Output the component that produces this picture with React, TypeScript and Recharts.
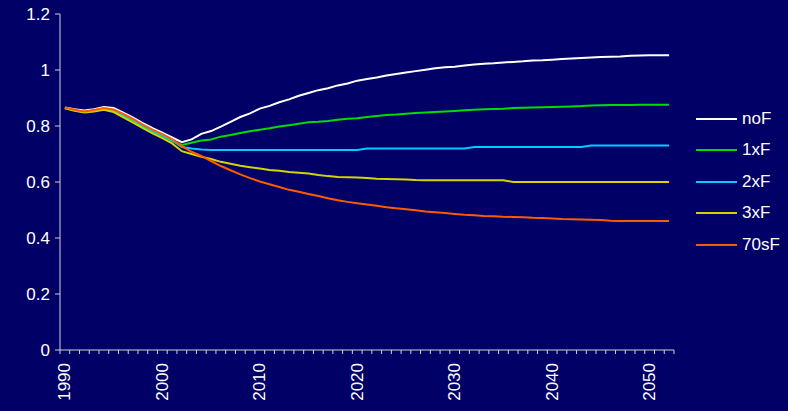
import { Legend, Line, LineChart, XAxis, YAxis } from "recharts";

const YEARS = [
  1990, 1991, 1992, 1993, 1994, 1995, 1996, 1997, 1998, 1999,
  2000, 2001, 2002, 2003, 2004, 2005, 2006, 2007, 2008, 2009,
  2010, 2011, 2012, 2013, 2014, 2015, 2016, 2017, 2018, 2019,
  2020, 2021, 2022, 2023, 2024, 2025, 2026, 2027, 2028, 2029,
  2030, 2031, 2032, 2033, 2034, 2035, 2036, 2037, 2038, 2039,
  2040, 2041, 2042, 2043, 2044, 2045, 2046, 2047, 2048, 2049,
  2050, 2051, 2052,
];

const NO_F = [
  0.866, 0.86, 0.855, 0.86, 0.868, 0.864, 0.848, 0.83, 0.81, 0.792,
  0.776, 0.759, 0.742, 0.752, 0.772, 0.782, 0.798, 0.815, 0.832, 0.845,
  0.862, 0.872, 0.885, 0.895, 0.908, 0.918, 0.928, 0.935, 0.945, 0.952,
  0.962, 0.968, 0.973, 0.98, 0.986, 0.991, 0.996, 1.001, 1.006, 1.01,
  1.012, 1.016, 1.02, 1.022, 1.024, 1.027, 1.029, 1.031, 1.034, 1.035,
  1.037, 1.039, 1.041, 1.043, 1.045, 1.046, 1.047, 1.048, 1.051, 1.052,
  1.053, 1.053, 1.053,
];

const ONE_X_F = [
  0.864, 0.856, 0.85, 0.855, 0.861, 0.854, 0.836, 0.818, 0.798, 0.78,
  0.764, 0.746, 0.732, 0.74, 0.748, 0.752, 0.762, 0.768, 0.775, 0.781,
  0.787, 0.792, 0.798, 0.803, 0.808, 0.813, 0.815, 0.818, 0.822, 0.826,
  0.828, 0.832, 0.836, 0.839, 0.841, 0.844, 0.846, 0.848, 0.85, 0.852,
  0.854, 0.856, 0.858, 0.86, 0.861, 0.862, 0.864, 0.865, 0.866, 0.867,
  0.868, 0.869, 0.87, 0.871, 0.873, 0.874, 0.875, 0.875, 0.875, 0.876,
  0.876, 0.876, 0.876,
];

const TWO_X_F = [
  0.864, 0.857, 0.851, 0.856, 0.862, 0.856, 0.839, 0.821, 0.801, 0.783,
  0.767, 0.749, 0.725, 0.72, 0.716, 0.714, 0.714, 0.714, 0.714, 0.714,
  0.714, 0.714, 0.714, 0.714, 0.714, 0.714, 0.714, 0.714, 0.714, 0.714,
  0.714, 0.72, 0.72, 0.72, 0.72, 0.72, 0.72, 0.72, 0.72, 0.72,
  0.72, 0.72, 0.725, 0.725, 0.725, 0.725, 0.725, 0.725, 0.725, 0.725,
  0.725, 0.725, 0.725, 0.725, 0.73, 0.73, 0.73, 0.73, 0.73, 0.73,
  0.73, 0.73, 0.73,
];

const THREE_X_F = [
  0.863, 0.854, 0.848, 0.852, 0.858, 0.85, 0.831, 0.812, 0.792, 0.774,
  0.757, 0.738, 0.71, 0.7, 0.69, 0.682, 0.672, 0.665, 0.658, 0.653,
  0.648, 0.643, 0.64, 0.636, 0.633, 0.63, 0.625, 0.621, 0.618, 0.617,
  0.616, 0.614, 0.612, 0.611, 0.61, 0.609, 0.607, 0.606, 0.606, 0.606,
  0.606, 0.606, 0.606, 0.606, 0.606, 0.606, 0.6, 0.6, 0.6, 0.6,
  0.6, 0.6, 0.6, 0.6, 0.6, 0.6, 0.6, 0.6, 0.6, 0.6,
  0.6, 0.6, 0.6,
];

const SEVENTIES_F = [
  0.865, 0.858, 0.852, 0.857, 0.864, 0.859, 0.843, 0.825, 0.805, 0.787,
  0.771, 0.753, 0.728, 0.708, 0.693, 0.675, 0.657, 0.642, 0.627, 0.614,
  0.602, 0.592, 0.582, 0.572, 0.565, 0.557, 0.55, 0.542, 0.535, 0.529,
  0.524, 0.52, 0.515, 0.51, 0.506, 0.503, 0.499, 0.495, 0.492, 0.489,
  0.486, 0.483, 0.481, 0.479, 0.478, 0.476, 0.475, 0.474, 0.472, 0.471,
  0.47, 0.468, 0.467, 0.466, 0.465, 0.464, 0.462, 0.461, 0.461, 0.461,
  0.461, 0.461, 0.461,
];

const Y_TICKS = [0, 0.2, 0.4, 0.6, 0.8, 1, 1.2];
const X_LABELS = [1990, 2000, 2010, 2020, 2030, 2040, 2050];

const SERIES = [
  { key: "noF", color: "#ffffff", values: NO_F },
  { key: "1xF", color: "#00dd00", values: ONE_X_F },
  { key: "2xF", color: "#00ccff", values: TWO_X_F },
  { key: "3xF", color: "#d4d400", values: THREE_X_F },
  { key: "70sF", color: "#ff5a00", values: SEVENTIES_F },
];

const data = YEARS.map((year, i) => {
  const row: Record<string, number> = { year };
  SERIES.forEach((s) => {
    row[s.key] = s.values[i];
  });
  return row;
});

// Excel-style category axis: tick marks sit between the years
const xTicks = [...YEARS.map((y) => y - 0.5), YEARS[YEARS.length - 1] + 0.5];

const PLOT_WIDTH = 614;
const STEP = PLOT_WIDTH / YEARS.length;
const FONT = "'Liberation Sans', Arial, sans-serif";
const AXIS_COLOR = "#d0d0e0";

function YearTick({ x, y, payload }: any) {
  const year = Math.round(payload.value + 0.5);
  if (!X_LABELS.includes(year)) return <g />;
  return (
    <g transform={`translate(${x + STEP / 2},${y + 7}) rotate(-90)`}>
      <text
        textAnchor="end"
        dominantBaseline="central"
        fill="#ffffff"
        fontSize={17}
        fontFamily={FONT}
      >
        {year}
      </text>
    </g>
  );
}

function SeriesLegend() {
  return (
    <div style={{ fontFamily: FONT }}>
      {SERIES.map((s) => (
        <div
          key={s.key}
          style={{ display: "flex", alignItems: "center", height: 31.5 }}
        >
          <span
            style={{
              display: "inline-block",
              width: 41,
              height: 2,
              background: s.color,
              marginRight: 5,
            }}
          />
          <span style={{ color: "#ffffff", fontSize: 17 }}>{s.key}</span>
        </div>
      ))}
    </div>
  );
}

export default function App() {
  return (
    <div
      style={{
        position: "absolute",
        left: 0,
        top: 0,
        width: 788,
        height: 411,
        background: "#000066",
      }}
    >
      <LineChart
        width={788}
        height={411}
        data={data}
        margin={{ top: 14, right: 114, bottom: 0, left: 0 }}
      >
        <XAxis
          dataKey="year"
          type="number"
          domain={[1989.5, 2052.5]}
          ticks={xTicks}
          interval={0}
          height={61}
          stroke={AXIS_COLOR}
          tickSize={4}
          tick={<YearTick />}
        />
        <YAxis
          width={60}
          domain={[0, 1.2]}
          ticks={Y_TICKS}
          interval={0}
          stroke={AXIS_COLOR}
          tickSize={5}
          tickMargin={5}
          tick={{ fill: "#ffffff", fontSize: 17, fontFamily: FONT }}
        />
        <Legend
          layout="vertical"
          align="center"
          verticalAlign="middle"
          content={<SeriesLegend />}
          wrapperStyle={{ position: "absolute", left: 696, top: 103, width: 92 }}
        />
        {SERIES.map((s) => (
          <Line
            key={s.key}
            dataKey={s.key}
            stroke={s.color}
            strokeWidth={2}
            dot={false}
            isAnimationActive={false}
          />
        ))}
      </LineChart>
    </div>
  );
}
